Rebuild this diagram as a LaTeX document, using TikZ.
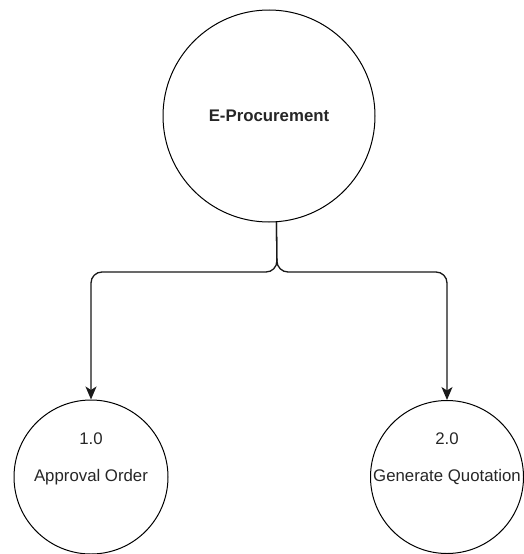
\documentclass[tikz,border=0pt]{standalone}
\usepackage{fontspec}
\setmainfont{Liberation Sans}
\usetikzlibrary{arrows.meta}
\begin{document}
\begin{tikzpicture}[x=1pt,y=-1pt,
  proc/.style={circle,draw=black,line width=1pt,inner sep=0pt,font=\fontsize{16.8}{19}\selectfont,text=black!85},
  flow/.style={draw=black!90,line width=1.3pt,rounded corners=11pt,-{Stealth[length=13pt,width=11pt,inset=3.5pt]}}]
\useasboundingbox (0,0) rectangle (523,554);
\node[proc,minimum size=212pt,font=\fontsize{16.8}{19}\selectfont\bfseries] (ep) at (269,116) {E-Procurement};
\node[proc,minimum size=154pt,label={[yshift=38pt,font=\fontsize{16.8}{19}\selectfont,text=black!85]center:1.0}] (ao) at (91,477) {Approval Order};
\node[proc,minimum size=153pt,label={[yshift=38pt,font=\fontsize{16.8}{19}\selectfont,text=black!85]center:2.0}] (gq) at (447,477) {Generate Quotation};
\coordinate (j) at (277,272);
\draw[flow] (ep.-86) -- (j) -| (ao.north);
\draw[flow] (ep.-86) -- (j) -| (gq.north);
\end{tikzpicture}
\end{document}
